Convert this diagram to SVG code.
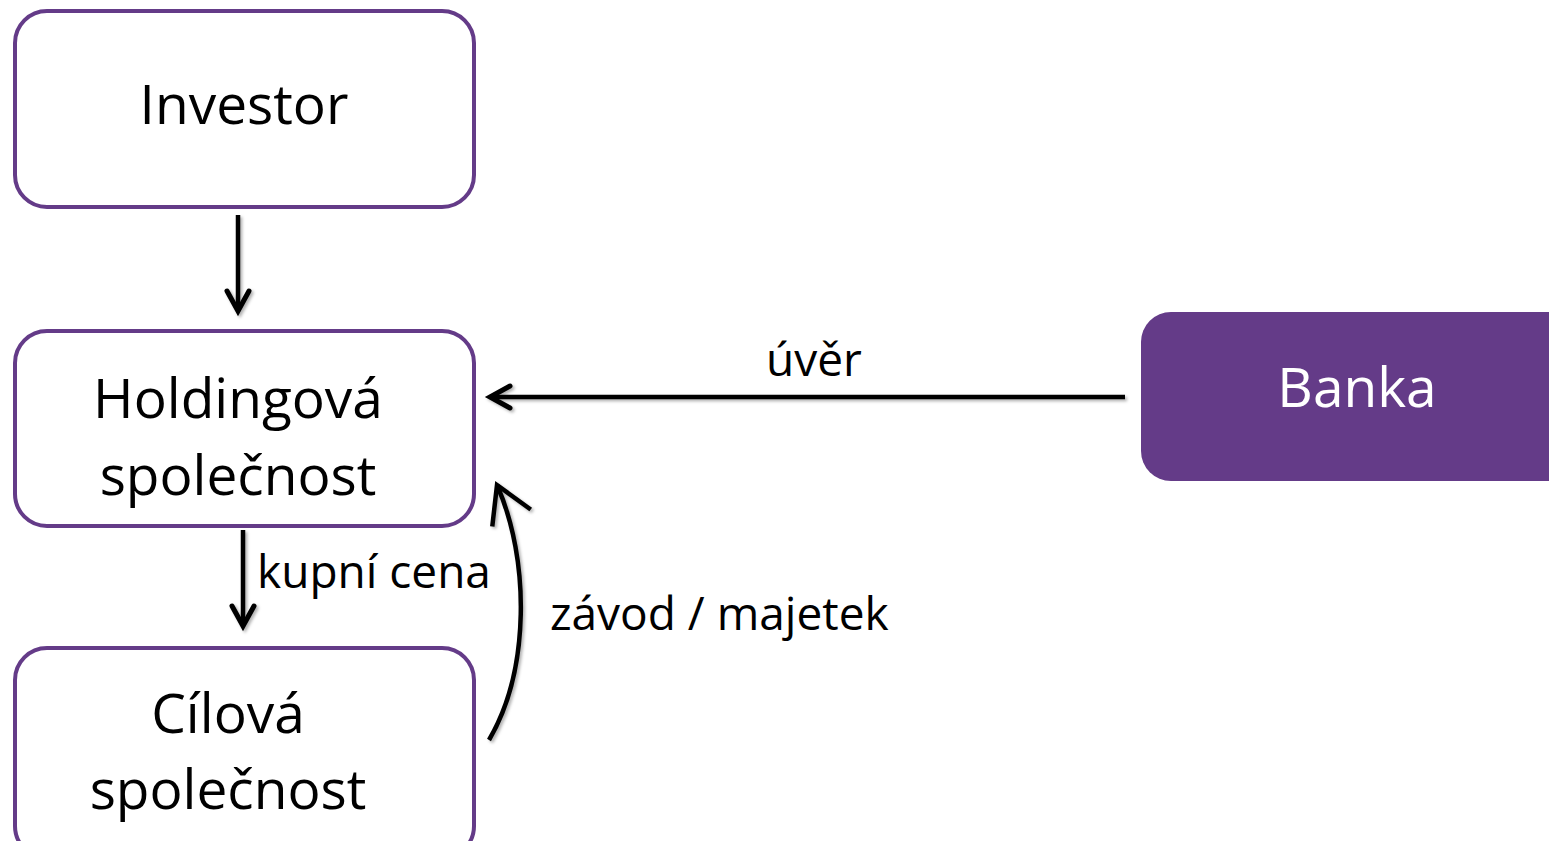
<svg xmlns="http://www.w3.org/2000/svg" width="1549" height="841" viewBox="0 0 1549 841">
<style>
.box{fill:#fff;stroke:#643B88;stroke-width:4}
.bank{fill:#643B88}
.t{font-family:"Open Sans","Noto Sans","DejaVu Sans",sans-serif;font-size:55px;fill:#000;text-anchor:middle}
.tw{fill:#fff}
.lbl{font-family:"Open Sans","Noto Sans","DejaVu Sans",sans-serif;font-size:46px;fill:#000}
.c{fill:none;stroke:#000;stroke-width:4.5;marker-end:url(#ah)}
.c2{marker-end:url(#ah2)}
</style>
<defs>
<marker id="ah" markerUnits="userSpaceOnUse" viewBox="-24 -14 28 28" markerWidth="28" markerHeight="28" refX="0" refY="0" orient="auto" overflow="visible">
<path d="M-20,-11 L0,0 L-20,11" fill="none" stroke="#000" stroke-width="5" stroke-linecap="round" stroke-linejoin="miter"/>
</marker>
<marker id="ah2" markerUnits="userSpaceOnUse" viewBox="-40 -25 44 50" markerWidth="44" markerHeight="50" refX="0" refY="0" orient="auto" overflow="visible">
<path d="M-36,-21 L0,0 L-36,21" fill="none" stroke="#000" stroke-width="4.5" stroke-linecap="butt" stroke-linejoin="miter"/>
</marker>
<filter id="sh" x="-20%" y="-20%" width="140%" height="140%">
<feDropShadow dx="2" dy="2" stdDeviation="1.5" flood-color="#000" flood-opacity="0.3"/>
</filter>
</defs>
<g id="investor">
<rect class="box" x="15" y="11" width="459" height="196" rx="32"/>
<text class="t" x="244" y="124">Investor</text>
</g>
<g id="holding">
<rect class="box" x="15" y="331" width="459" height="195" rx="32"/>
<text class="t" x="238" y="418">Holdingová</text>
<text class="t" x="238" y="495">společnost</text>
</g>
<g id="cilova">
<rect class="box" x="15" y="648" width="459" height="210" rx="32"/>
<text class="t" x="228" y="733">Cílová</text>
<text class="t" x="228" y="809">společnost</text>
</g>
<g id="banka">
<rect class="bank" x="1141" y="312" width="440" height="169" rx="30"/>
<text class="t tw" x="1357" y="407">Banka</text>
</g>
<g id="connectors" filter="url(#sh)">
<path class="c" d="M238,215 L238,311"/>
<path class="c" d="M1125,397 L490,397"/>
<path class="c" d="M243,530 L243,626"/>
<path class="c c2" d="M489,740 C530,670 530,560 497,485"/>
</g>
<g id="labels">
<text class="lbl" x="766" y="376">úvěr</text>
<text class="lbl" x="257" y="588">kupní cena</text>
<text class="lbl" x="550" y="630">závod / majetek</text>
</g>
</svg>
